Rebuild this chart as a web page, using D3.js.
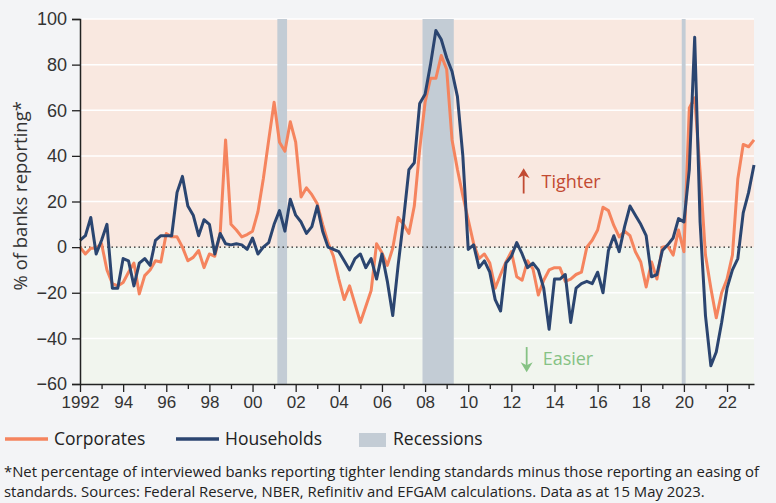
<!DOCTYPE html>
<html>
<head>
<meta charset="utf-8">
<script src="https://cdn.jsdelivr.net/npm/d3@7"></script>
<style>
  body { margin: 0; background: #f3f4f6; }
  svg { display: block; font-family: "Open Sans", "Noto Sans", sans-serif; }
</style>
</head>
<body>
<div class="chart"></div>
<script>
// quarterly series, 1992 Q1 .. 2023 Q2
const startYear = 1992;
const corporates = [
  0, -3, -0.5, -0.5, 1.5, -10, -16, -17, -15.5, -11, -7, -20.5, -12.5, -10, -6, -6.5,
  6, 4.5, 4.5, 0, -6, -4.5, -1.5, -9, -3, -4, 6, 47, 10, 7.5, 4.5, 5.5,
  7, 15.5, 30, 47, 63.5, 46, 42, 55, 46, 22, 26, 23, 19, 10, 2, -4,
  -14, -23, -17, -25, -33, -26, -19, 1.5, -2.5, -8, -0.5, 13, 10, 6, 18, 43,
  63.5, 74, 74, 84, 78, 47, 34, 22.5, 12, 1.5, -5, -3, -7, -18, -12, -6.5,
  -2, -13, -14.5, -6, -9.5, -21, -14.5, -10, -9, -9, -15, -14, -12, -11, 0, 3,
  7.5, 17.5, 16, 9.5, 4.5, 7, 5, -2, -6.5, -17.5, -6.5, -14, 0, 0.5, -3.5, 7.5,
  -2, 61, 65.5, 33, -3.5, -18, -31, -20, -14, -3.5, 30, 45, 44, 47
];
const households = [
  3, 5, 13, -3, 3, 10, -18, -18, -5, -6, -17, -7, -5, -8, 3, 5,
  5, 5, 24, 31, 18, 14, 5, 12, 10, -3, 6, 1.5, 1, 1.5, 1, -1,
  4, -3, 0, 2, 10, 16, 7, 21, 14, 11, 6, 9, 18, 7, 0, -1,
  -2, -6, -10, -5, -3, -9, -5, -14, -3, -15, -30, -8, 12, 34, 37, 63,
  67, 80, 95, 91, 83, 77, 66, 40, -1, 1, -9, -6, -11, -23, -28, -7,
  -4, 2, -3, -9, -7, -10, -18, -36, -14, -14, -12, -33, -18, -16, -15, -16,
  -11, -20, -1.5, 5, -2, 9, 18, 14, 10, 5, -13, -12, -1.5, 1, 4, 12.5,
  11, 34, 92, 11, -30, -52, -46, -33, -18, -10, -5, 15, 24, 36
];
const recessions = [[2001.15, 2001.6], [2007.88, 2009.33], [2019.9, 2020.08]];
const yTicks = [-60, -40, -20, 0, 20, 40, 60, 80, 100];
const xMajor = d3.range(1992, 2023, 2);
const xMinor = d3.range(1993, 2024, 2);
const xLabel = y => y === 1992 ? "1992" : String(y % 100).padStart(2, "0");

const W = 776, H = 503;
const margin = {top: 19, left: 80, right: 22, bottom: 119};
const width = W - margin.left - margin.right,
    height = H - margin.top - margin.bottom;

const colCorp = "#f5845e", colHouse = "#2b4570", colRec = "#c3ccd5";

const svg = d3.select(".chart").append("svg")
    .attr("width", W)
    .attr("height", H);

svg.append("rect").attr("width", W).attr("height", H).attr("fill", "#f3f4f6");

const g = svg.append("g")
    .attr("transform", `translate(${margin.left},${margin.top})`);

const toDate = (d, i) => startYear + i / 4;
const lastYear = toDate(null, corporates.length - 1);

const x = d3.scaleLinear().domain([startYear, lastYear]).range([0, width]);
const y = d3.scaleLinear().domain([-60, 100]).range([height, 0]);

// shaded halves
g.append("rect").attr("x", 0).attr("y", y(100)).attr("width", width)
    .attr("height", y(0) - y(100)).attr("fill", "#f9e8e0");
g.append("rect").attr("x", 0).attr("y", y(0)).attr("width", width)
    .attr("height", y(-60) - y(0)).attr("fill", "#f1f5ee");

// gridlines
g.selectAll(".grid").data(yTicks.filter(d => d !== 0 && d !== -60))
  .enter().append("line")
    .attr("x1", 0).attr("x2", width)
    .attr("y1", d => y(d)).attr("y2", d => y(d))
    .attr("stroke", "#fff").attr("stroke-width", 1.5);

// recessions
g.selectAll(".rec").data(recessions)
  .enter().append("rect")
    .attr("x", d => x(d[0]))
    .attr("width", d => x(d[1]) - x(d[0]))
    .attr("y", y(100)).attr("height", y(-60) - y(100))
    .attr("fill", colRec);

// zero line
g.append("line").attr("x1", 0).attr("x2", width)
    .attr("y1", y(0)).attr("y2", y(0))
    .attr("stroke", "#222").attr("stroke-width", 1.3)
    .attr("stroke-dasharray", "1.5,3");

const line = d3.line()
    .x((d, i) => x(toDate(d, i)))
    .y(d => y(d));

g.append("path").datum(corporates)
    .attr("fill", "none").attr("stroke", colCorp)
    .attr("stroke-width", 3).attr("stroke-linejoin", "round")
    .attr("d", line);

g.append("path").datum(households)
    .attr("fill", "none").attr("stroke", colHouse)
    .attr("stroke-width", 3).attr("stroke-linejoin", "round")
    .attr("d", line);

// axes
const yAxis = d3.axisLeft(y).tickValues(yTicks).tickSize(8).tickPadding(5);
const yg = g.append("g").call(yAxis);
yg.selectAll("text").attr("font-size", 18).attr("fill", "#333");

const xAxis = d3.axisBottom(x).tickValues(xMajor).tickFormat(xLabel).tickSize(8).tickPadding(4).tickSizeOuter(0);
const xg = g.append("g").attr("transform", `translate(0,${height})`).call(xAxis);
xg.selectAll("text").attr("font-size", 17).attr("fill", "#333");

const xMinorAxis = d3.axisBottom(x).tickValues(xMinor.filter(d => d <= lastYear)).tickFormat("").tickSize(5).tickSizeOuter(0);
const xmg = g.append("g").attr("transform", `translate(0,${height})`).call(xMinorAxis);
xmg.select(".domain").remove();

g.selectAll(".domain").attr("stroke", "#222").attr("stroke-width", 1.5);
g.selectAll(".tick line").attr("stroke", "#222").attr("stroke-width", 1.3);

// y label
svg.append("text")
    .attr("transform", `translate(27,${margin.top + y(22.5)}) rotate(-90)`)
    .attr("text-anchor", "middle")
    .attr("font-size", 18.5).attr("fill", "#333")
    .text("% of banks reporting*");

// Tighter / Easier
function arrow(cx, y1, y2, col) {
  const dir = y2 > y1 ? 1 : -1;
  g.append("line").attr("x1", cx).attr("x2", cx).attr("y1", y1).attr("y2", y2 - dir * 6)
      .attr("stroke", col).attr("stroke-width", 1.8);
  g.append("path")
      .attr("d", `M${cx - 6},${y2 - dir * 10}L${cx},${y2}L${cx + 6},${y2 - dir * 10}L${cx},${y2 - dir * 7}Z`)
      .attr("fill", col);
}
const colUp = "#c24a32", colDown = "#86c284";
arrow(x(2012.57), y(23.5), y(34.6), colUp);
g.append("text").attr("x", x(2013.4)).attr("y", y(25.9))
    .attr("font-size", 18).attr("fill", colUp).text("Tighter");
arrow(x(2012.71), y(-43.8), y(-54.8), colDown);
g.append("text").attr("x", x(2013.45)).attr("y", y(-51.7))
    .attr("font-size", 18).attr("fill", colDown).text("Easier");

// legend
const leg = svg.append("g").attr("transform", "translate(0,439)");
leg.append("line").attr("x1", 5).attr("x2", 48).attr("stroke", colCorp).attr("stroke-width", 3.5);
leg.append("text").attr("x", 54).attr("y", 6).attr("font-size", 17.5).attr("fill", "#222").text("Corporates");
leg.append("line").attr("x1", 176).attr("x2", 219).attr("stroke", colHouse).attr("stroke-width", 3.5);
leg.append("text").attr("x", 225).attr("y", 6).attr("font-size", 17.5).attr("fill", "#222").text("Households");
leg.append("rect").attr("x", 359).attr("y", -6).attr("width", 27).attr("height", 14).attr("fill", colRec);
leg.append("text").attr("x", 393).attr("y", 6).attr("font-size", 17.5).attr("fill", "#222").text("Recessions");

// footnote
const notes = [
  "*Net percentage of interviewed banks reporting tighter lending standards minus those reporting an easing of",
  "standards. Sources: Federal Reserve, NBER, Refinitiv and EFGAM calculations. Data as at 15 May 2023."
];
svg.selectAll(".note").data(notes).enter().append("text")
    .attr("x", 4).attr("y", (d, i) => 477 + i * 20)
    .attr("font-size", 14).attr("fill", "#222")
    .text(d => d);
// fit first line to reference width
const n0 = svg.selectAll("text").filter(d => d === notes[0]).node();
const w0 = n0.getComputedTextLength();
const fs = 14 * 755 / w0;
svg.selectAll("text").filter(d => notes.includes(d)).attr("font-size", Math.min(fs, 16));
</script>
</body>
</html>
